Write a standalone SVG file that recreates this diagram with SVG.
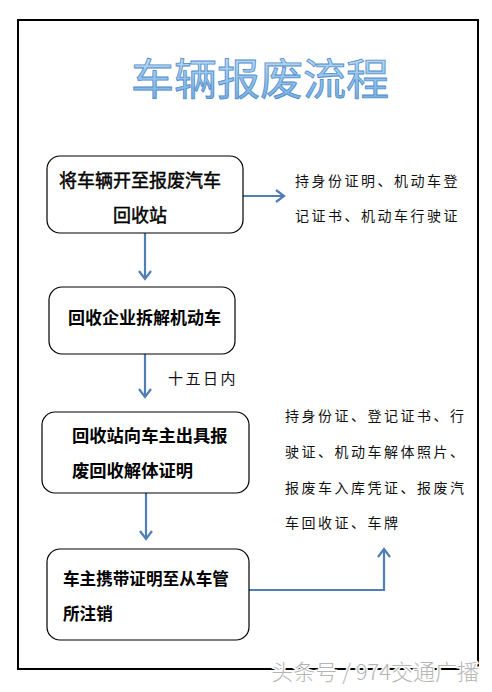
<svg xmlns="http://www.w3.org/2000/svg" width="492" height="692" viewBox="0 0 492 692">
<defs>
<linearGradient id="tg" x1="0" y1="0" x2="0" y2="1">
<stop offset="0" stop-color="#d2e8fa"/>
<stop offset="0.5" stop-color="#97c5ee"/>
<stop offset="1" stop-color="#6aa6de"/>
</linearGradient>
<style>
.box{fill:#fff;stroke:#000;stroke-width:1.2}
.ln{fill:none;stroke:#4f7fb5;stroke-width:2.2}
.bt{font-family:"Noto Sans CJK SC",sans-serif;fill:#000;font-weight:bold}
.mt{font-family:"Noto Sans CJK SC",sans-serif;fill:#000;font-weight:normal;stroke:#000;stroke-width:0.45}
.nt{font-family:"Noto Sans CJK SC",sans-serif;fill:#111;font-size:14px;letter-spacing:2.5px}
</style>
</defs>
<rect width="492" height="692" fill="#fff"/>
<rect x="18" y="20" width="460" height="649" fill="none" stroke="#000" stroke-width="2"/>
<g id="title">
<text x="260" y="95" text-anchor="middle" font-family="Noto Sans CJK SC,sans-serif" font-size="43" fill="url(#tg)" stroke="#4f8ac6" stroke-width="0.8">车辆报废流程</text>
</g>
<g id="connectors">
<path class="ln" d="M243,196 L283,196"/>
<path class="ln" d="M276,190 L284,196 L276,202"/>
<path class="ln" d="M145,233 L145,279"/>
<path class="ln" d="M139,271 L145,279 L151,271"/>
<path class="ln" d="M145,354 L145,397"/>
<path class="ln" d="M139,389 L145,397 L151,389"/>
<path class="ln" d="M146,493 L146,539"/>
<path class="ln" d="M140,531 L146,539 L152,531"/>
<path class="ln" d="M249,590 L384,590 L384,549"/>
<path class="ln" d="M378,557 L384,549 L390,557"/>
<text x="168" y="384" font-family="Noto Sans CJK SC,sans-serif" font-size="15" letter-spacing="2.5" fill="#111">十五日内</text>
</g>
<g id="node1">
<rect class="box" x="47" y="156" width="196" height="77" rx="13"/>
<text class="mt" x="59" y="187" font-size="18">将车辆开至报废汽车</text>
<text class="mt" x="140" y="222" font-size="18" text-anchor="middle">回收站</text>
</g>
<g id="note1">
<text class="nt" x="295" y="185.5">持身份证明、机动车登</text>
<text class="nt" x="295" y="220.5">记证书、机动车行驶证</text>
</g>
<g id="node2">
<rect class="box" x="49" y="287" width="186" height="67" rx="13"/>
<text class="bt" x="68" y="323.5" font-size="17">回收企业拆解机动车</text>
</g>
<g id="node3">
<rect class="box" x="42" y="412" width="207" height="81" rx="13"/>
<text class="bt" x="72" y="441.5" font-size="17.3">回收站向车主出具报</text>
<text class="bt" x="72" y="476.5" font-size="17.3">废回收解体证明</text>
</g>
<g id="note2">
<text class="nt" x="285" y="420.5">持身份证、登记证书、行</text>
<text class="nt" x="285" y="456.5">驶证、机动车解体照片、</text>
<text class="nt" x="285" y="492.5">报废车入库凭证、报废汽</text>
<text class="nt" x="285" y="527.5">车回收证、车牌</text>
</g>
<g id="node4">
<rect class="box" x="47" y="549" width="202" height="91" rx="13"/>
<text class="bt" x="63" y="584.5" font-size="16.6">车主携带证明至从车管</text>
<text class="bt" x="63" y="619.5" font-size="16.6">所注销</text>
</g>
<g id="watermark">
<text x="479" y="680" text-anchor="end" font-family="Noto Sans CJK SC,sans-serif" font-size="22" font-weight="300" fill="#b5b5b5" stroke="#fff" stroke-width="3" paint-order="stroke">头条号 / 974交通广播</text>
</g>
</svg>
